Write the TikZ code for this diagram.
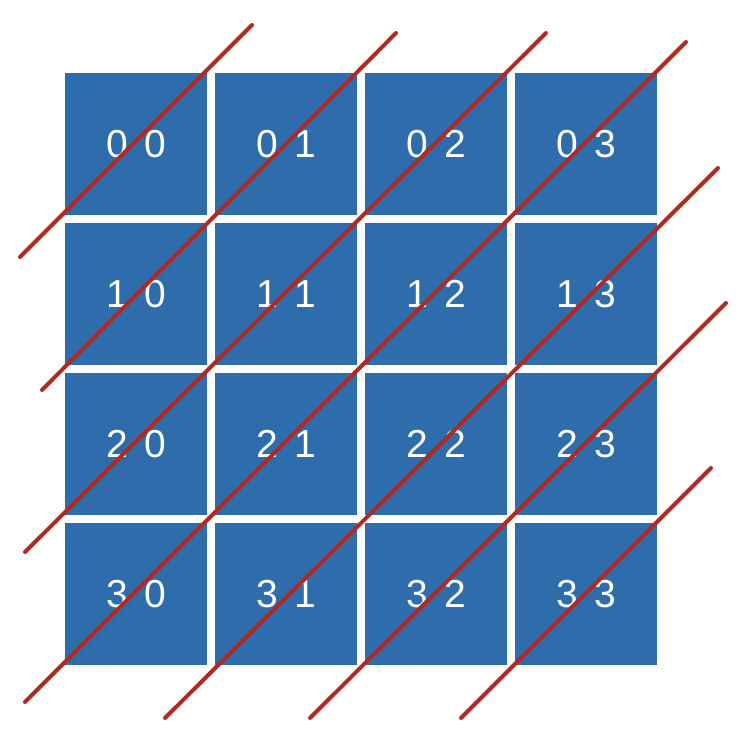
\documentclass[tikz,border=0pt]{standalone}
\usepackage{fontspec}
\setmainfont{Liberation Sans}
\usepackage{tikz}
\usetikzlibrary{positioning, calc}
\definecolor{cellblue}{RGB}{46,108,172}
\definecolor{linered}{RGB}{176,42,34}
\tikzstyle{cell} = [rectangle, minimum width=142pt, minimum height=142pt, inner sep=0pt, fill=cellblue, text=white, font=\fontsize{39}{39}\selectfont]
\tikzstyle{diag} = [line width=4pt, draw=linered, line cap=round]

\begin{document}
\begin{tikzpicture}[x=1pt, y=-1pt]
    \useasboundingbox (0,0) rectangle (752,740);

    % Celdas de la matriz
    \foreach \i in {0,...,3} {
        \foreach \j in {0,...,3} {
            \node (c\i\j) [cell] at ({136+150*\j},{144+150*\i}) {\i\hspace{0.42em}\j};
        }
    }

    % Diagonales
    \coordinate (d0a) at (20,257);   \coordinate (d0b) at (252,25);
    \coordinate (d1a) at (42,390);   \coordinate (d1b) at (396,33);
    \coordinate (d2a) at (25,552);   \coordinate (d2b) at (546,33);
    \coordinate (d3a) at (25,702);   \coordinate (d3b) at (686,42);
    \coordinate (d4a) at (165,718);  \coordinate (d4b) at (718,168);
    \coordinate (d5a) at (310,718);  \coordinate (d5b) at (726,303);
    \coordinate (d6a) at (461,718);  \coordinate (d6b) at (711,468);
    \foreach \k in {0,...,6}
        \draw [diag] (d\k a) -- (d\k b);
\end{tikzpicture}
\end{document}
